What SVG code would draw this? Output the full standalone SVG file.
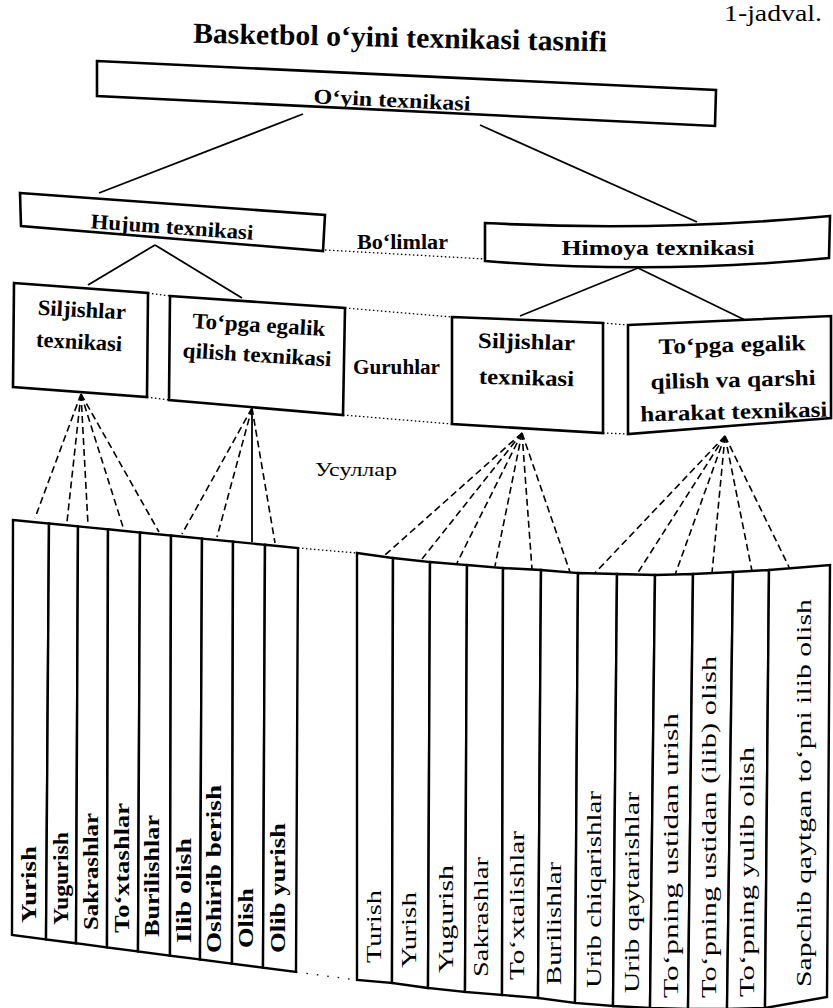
<svg xmlns="http://www.w3.org/2000/svg" width="833" height="1008" viewBox="0 0 833 1008">
<style>
.box{fill:#fff;stroke:#000;stroke-width:2.6;stroke-linejoin:miter}
.col{fill:#fff;stroke:#000;stroke-width:2.4;stroke-linejoin:miter}
.solid{stroke:#000;stroke-width:1.8;fill:none}
.dash{stroke:#000;stroke-width:1.6;stroke-dasharray:7 4;fill:none}
.dot{stroke:#000;stroke-width:1.3;stroke-dasharray:1.5 2.5;fill:none}
.t1{font-family:"Liberation Serif",serif;font-weight:bold;font-size:21px;text-anchor:middle;fill:#000}
.t2{font-family:"Liberation Serif",serif;font-weight:bold;font-size:22px;text-anchor:middle;fill:#000}
.lab{font-family:"Liberation Serif",serif;font-weight:bold;font-size:20px;fill:#000}
.ll{font-family:"Liberation Serif",serif;font-weight:bold;font-size:21px;fill:#000}
.lr{font-family:"Liberation Serif",serif;font-weight:normal;font-size:20px;fill:#000}
</style>

<text x="400" y="47" class="t1" style="font-size:29px" textLength="414" lengthAdjust="spacingAndGlyphs" transform="rotate(1.2 400 40)">Basketbol o‘yini texnikasi tasnifi</text>
<text x="724" y="21" style="font-family:'Liberation Serif',serif;font-size:23px" textLength="98" lengthAdjust="spacingAndGlyphs">1-jadval.</text>

<g id="connectors">
  <line class="solid" x1="303" y1="114" x2="99" y2="193"/>
  <line class="solid" x1="480" y1="125" x2="697" y2="222"/>
  <line class="solid" x1="155" y1="245" x2="88" y2="285"/>
  <line class="solid" x1="155" y1="245" x2="242" y2="298"/>
  <line class="solid" x1="638" y1="268" x2="520" y2="316"/>
  <line class="solid" x1="638" y1="268" x2="747" y2="321"/>
  <line class="dot" x1="325" y1="250" x2="485" y2="259"/>
  <line class="dot" x1="148" y1="293" x2="170" y2="296"/>
  <line class="dot" x1="147" y1="397" x2="169" y2="400"/>
  <line class="dot" x1="345" y1="308" x2="452" y2="317"/>
  <line class="dot" x1="343" y1="415" x2="452" y2="424"/>
  <line class="dot" x1="603" y1="323" x2="628" y2="325"/>
  <line class="dot" x1="603" y1="433" x2="628" y2="434"/>
  <line class="dot" x1="298" y1="548" x2="357" y2="553"/>
  <line class="dot" x1="296" y1="972" x2="357" y2="980" style="stroke-dasharray:1.5 9"/>
  <line class="dash" x1="81" y1="394" x2="35" y2="518"/>
  <line class="dash" x1="81" y1="394" x2="67" y2="522"/>
  <line class="dash" x1="81" y1="394" x2="88" y2="525"/>
  <line class="dash" x1="81" y1="394" x2="123" y2="527"/>
  <line class="dash" x1="81" y1="394" x2="159" y2="532"/>
  <line class="dash" x1="252" y1="408" x2="182" y2="534"/>
  <line class="dash" x1="252" y1="408" x2="217" y2="537"/>
  <line class="solid" x1="252" y1="408" x2="252" y2="542"/>
  <line class="dash" x1="252" y1="408" x2="275" y2="543"/>
  <line class="dash" x1="522" y1="433" x2="385" y2="555"/>
  <line class="dash" x1="522" y1="433" x2="422" y2="559"/>
  <line class="dash" x1="522" y1="433" x2="457" y2="563"/>
  <line class="dash" x1="522" y1="433" x2="495" y2="566"/>
  <line class="dash" x1="522" y1="433" x2="532" y2="569"/>
  <line class="dash" x1="522" y1="433" x2="570" y2="572"/>
  <line class="dash" x1="725" y1="436" x2="595" y2="573"/>
  <line class="dash" x1="725" y1="436" x2="637" y2="574"/>
  <line class="dash" x1="725" y1="436" x2="675" y2="575"/>
  <line class="dash" x1="725" y1="436" x2="712" y2="573"/>
  <line class="dash" x1="725" y1="436" x2="752" y2="571"/>
  <line class="dash" x1="725" y1="436" x2="790" y2="569"/>
</g>

<g id="oyin">
  <polygon class="box" points="97,61 716,90 715,126 97,96"/>
  <text x="392" y="107" class="t1" textLength="157" lengthAdjust="spacingAndGlyphs" transform="rotate(2.7 392 100)">O‘yin texnikasi</text>
</g>
<g id="hujum">
  <polygon class="box" points="20,193 325,215 323,251 21,226"/>
  <text x="172" y="234" class="t1" textLength="163" lengthAdjust="spacingAndGlyphs" transform="rotate(4 172 227)">Hujum texnikasi</text>
</g>
<g id="himoya">
  <path class="box" d="M485,223 Q657,232 830,216 L829,258 Q657,275 485,261 Z"/>
  <text x="658" y="255" class="t1" textLength="193" lengthAdjust="spacingAndGlyphs">Himoya texnikasi</text>
</g>
<g id="bolimlar">
  <text x="357" y="249" class="lab" textLength="91" lengthAdjust="spacingAndGlyphs">Bo‘limlar</text>
</g>

<g id="g1">
  <polygon class="box" points="14,283 148,293 147,397 13,387"/>
  <g transform="rotate(3 80 326)">
    <text x="81" y="317" class="t2" textLength="88" lengthAdjust="spacingAndGlyphs">Siljishlar</text>
    <text x="80" y="349" class="t2" textLength="86" lengthAdjust="spacingAndGlyphs">texnikasi</text>
  </g>
</g>
<g id="g2">
  <polygon class="box" points="170,296 345,308 343,415 169,400"/>
  <g transform="rotate(3.5 258 340)">
    <text x="258" y="332" class="t2" textLength="133" lengthAdjust="spacingAndGlyphs">To‘pga egalik</text>
    <text x="258" y="362" class="t2" textLength="149" lengthAdjust="spacingAndGlyphs">qilish texnikasi</text>
  </g>
</g>
<g id="guruhlar">
  <text x="353" y="374" class="lab" textLength="87" lengthAdjust="spacingAndGlyphs">Guruhlar</text>
</g>
<g id="g3">
  <polygon class="box" points="452,317 603,323 603,433 452,424"/>
  <g transform="rotate(1.5 526 360)">
    <text x="526" y="349" class="t2" textLength="97" lengthAdjust="spacingAndGlyphs">Siljishlar</text>
    <text x="527" y="385" class="t2" textLength="95" lengthAdjust="spacingAndGlyphs">texnikasi</text>
  </g>
</g>
<g id="g4">
  <polygon class="box" points="628,325 831,316 831,418 628,434"/>
  <g transform="rotate(-1.5 733 380)">
    <text x="733" y="352" class="t2" textLength="147" lengthAdjust="spacingAndGlyphs">To‘pga egalik</text>
    <text x="733" y="387" class="t2" textLength="165" lengthAdjust="spacingAndGlyphs">qilish va qarshi</text>
    <text x="733" y="419" class="t2" textLength="187" lengthAdjust="spacingAndGlyphs">harakat texnikasi</text>
  </g>
</g>
<g id="usullar">
  <text x="315" y="476" style="font-family:'Liberation Serif',serif;font-size:18px" textLength="82" lengthAdjust="spacingAndGlyphs">Усуллар</text>
</g>

<g id="left-methods">
  <g id="m1"><polygon class="col" points="13,520 49,523.5 46,939.4 12,935"/><text class="ll" transform="translate(36 923) rotate(-90)" textLength="77" lengthAdjust="spacingAndGlyphs">Yurish</text></g>
  <g id="m2"><polygon class="col" points="49,523.5 78,526.4 76,943.3 46,939.4"/><text class="ll" transform="translate(68 925) rotate(-90)" textLength="93" lengthAdjust="spacingAndGlyphs">Yugurish</text></g>
  <g id="m3"><polygon class="col" points="78,526.4 108,529.3 107,947.4 76,943.3"/><text class="ll" transform="translate(98 930) rotate(-90)" textLength="117" lengthAdjust="spacingAndGlyphs">Sakrashlar</text></g>
  <g id="m4"><polygon class="col" points="108,529.3 140,532.5 138,951.4 107,947.4"/><text class="ll" transform="translate(129 933) rotate(-90)" textLength="130" lengthAdjust="spacingAndGlyphs">To‘xtashlar</text></g>
  <g id="m5"><polygon class="col" points="140,532.5 171,535.5 170,955.6 138,951.4"/><text class="ll" transform="translate(159 937) rotate(-90)" textLength="122" lengthAdjust="spacingAndGlyphs">Burilishlar</text></g>
  <g id="m6"><polygon class="col" points="171,535.5 202,538.6 200,959.5 170,955.6"/><text class="ll" transform="translate(191 943) rotate(-90)" textLength="105" lengthAdjust="spacingAndGlyphs">Ilib olish</text></g>
  <g id="m7"><polygon class="col" points="202,538.6 233,541.6 232,963.7 200,959.5"/><text class="ll" transform="translate(221 953) rotate(-90)" textLength="168" lengthAdjust="spacingAndGlyphs">Oshirib berish</text></g>
  <g id="m8"><polygon class="col" points="233,541.6 265,544.8 263,967.7 232,963.7"/><text class="ll" transform="translate(253 948) rotate(-90)" textLength="60" lengthAdjust="spacingAndGlyphs">Olish</text></g>
  <g id="m9"><polygon class="col" points="265,544.8 298,548 296,972 263,967.7"/><text class="ll" transform="translate(285 953) rotate(-90)" textLength="130" lengthAdjust="spacingAndGlyphs">Olib yurish</text></g>
</g>

<g id="right-methods">
  <g id="r1"><polygon class="col" points="357,553 393,558 392,983 357,980"/><text class="lr" transform="translate(381 963) rotate(-90)" textLength="73" lengthAdjust="spacingAndGlyphs">Turish</text></g>
  <g id="r2"><polygon class="col" points="393,558 430,562 428,988 392,983"/><text class="lr" transform="translate(416 968) rotate(-90)" textLength="76" lengthAdjust="spacingAndGlyphs">Yurish</text></g>
  <g id="r3"><polygon class="col" points="430,562 467,565 465,992 428,988"/><text class="lr" transform="translate(453 973) rotate(-90)" textLength="108" lengthAdjust="spacingAndGlyphs">Yugurish</text></g>
  <g id="r4"><polygon class="col" points="467,565 503,568 502,995 465,992"/><text class="lr" transform="translate(488 977) rotate(-90)" textLength="120" lengthAdjust="spacingAndGlyphs">Sakrashlar</text></g>
  <g id="r5"><polygon class="col" points="503,568 541,570 538,998 502,995"/><text class="lr" transform="translate(524 980) rotate(-90)" textLength="149" lengthAdjust="spacingAndGlyphs">To‘xtalishlar</text></g>
  <g id="r6"><polygon class="col" points="541,570 578,573 575,1003 538,998"/><text class="lr" transform="translate(561 985) rotate(-90)" textLength="123" lengthAdjust="spacingAndGlyphs">Burilishlar</text></g>
  <g id="r7"><polygon class="col" points="578,573 617,574 613,1006 575,1003"/><text class="lr" transform="translate(601 988) rotate(-90)" textLength="197" lengthAdjust="spacingAndGlyphs">Urib chiqarishlar</text></g>
  <g id="r8"><polygon class="col" points="617,574 655,575 650,1008 613,1006"/><text class="lr" transform="translate(639 993) rotate(-90)" textLength="201" lengthAdjust="spacingAndGlyphs">Urib qaytarishlar</text></g>
  <g id="r9"><polygon class="col" points="655,575 693,574 688,1009 650,1008"/><text class="lr" transform="translate(678 998) rotate(-90)" textLength="285" lengthAdjust="spacingAndGlyphs">To‘pning ustidan urish</text></g>
  <g id="r10"><polygon class="col" points="693,574 733,572 727,1009 688,1009"/><text class="lr" transform="translate(716 998) rotate(-90)" textLength="342" lengthAdjust="spacingAndGlyphs">To‘pning ustidan (ilib) olish</text></g>
  <g id="r11"><polygon class="col" points="733,572 769,570 765,1008 727,1009"/><text class="lr" transform="translate(754 997) rotate(-90)" textLength="250" lengthAdjust="spacingAndGlyphs">To‘pning yulib olish</text></g>
  <g id="r12"><polygon class="col" points="769,570 830,565 827,997 765,1008"/><text class="lr" transform="translate(811 987) rotate(-90)" textLength="388" lengthAdjust="spacingAndGlyphs">Sapchib qaytgan to‘pni ilib olish</text></g>
</g>
</svg>
